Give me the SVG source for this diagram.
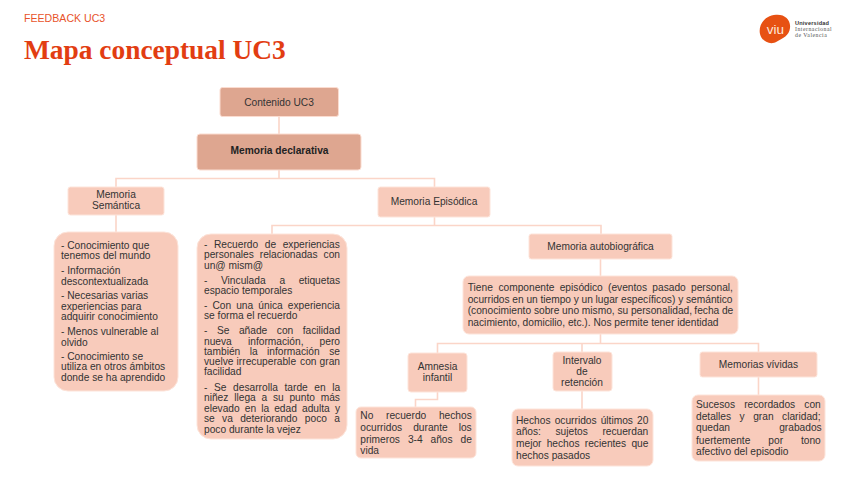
<svg xmlns="http://www.w3.org/2000/svg" width="848" height="477" viewBox="0 0 848 477">
<style>
text{font-family:"Liberation Sans",Arial,sans-serif;font-size:10.200px;fill:#333}
.c{text-anchor:middle}
.dark{fill:#dea690;stroke:#fbdcd0;stroke-width:1}
.light{fill:#f8cbbb;stroke:#fde4da;stroke-width:1}
#connectors path{fill:none;stroke:#fbd5c8;stroke-width:1.600}
</style>
<rect width="848" height="477" fill="#fff"/>
<g id="header">
<text x="24" y="22" style="font-size:10.600px;fill:#e8532b">FEEDBACK UC3</text>
<text x="24" y="59" style="font-family:'Liberation Serif','Times New Roman',serif;font-size:27.400px;font-weight:bold;fill:#e23d12">Mapa conceptual UC3</text>
</g>
<g id="logo">
<path d="M760 34C758 25 765 15 776 14.700C785 14 791 20 790 28C789 36 783 38 777 41.500C771 45.500 762 42 760 34Z" fill="#e75113"/>
<text x="775.500" y="33.500" class="c" style="font-size:13.500px;fill:#fde7dc">viu</text>
<text x="795" y="24.800" style="font-size:5.600px;letter-spacing:.2px;font-weight:bold;fill:#333">Universidad</text>
<text x="795" y="31" style="font-family:'Liberation Serif',serif;font-size:5.800px;letter-spacing:.5px;fill:#555">Internacional</text>
<text x="795" y="37.200" style="font-family:'Liberation Serif',serif;font-size:5.800px;letter-spacing:.5px;fill:#555">de Valencia</text>
</g>
<g id="connectors">
<path d="M279 117V134M279 170V178.500M116 187V178.500H434.500V187M116 215V232M434.500 217V225.500M272 234V225.500H601V234M600.500 259V276M600.500 334V343M437.500 353V343.500H758.500V352M582 343.500V352M437.500 392V399.500H415.500V407M582 391V409M758.500 377V395"/>
</g>
<g id="n-contenido"><rect class="dark" x="220" y="87.500" width="118.500" height="29" rx="2.500"/><text class="c" x="279" y="105.500">Contenido UC3</text></g>
<g id="n-declarativa"><rect class="dark" x="197" y="134" width="164" height="36" rx="3"/><text class="c" x="279.500" y="154" style="font-weight:bold;fill:#222">Memoria declarativa</text></g>
<g id="n-semantica"><rect class="light" x="68" y="187" width="96" height="28" rx="2.500"/><text class="c" x="116" y="198">Memoria</text><text class="c" x="116" y="209">Semántica</text></g>
<g id="n-episodica"><rect class="light" x="378" y="187" width="112" height="30" rx="2.500"/><text class="c" x="434" y="205">Memoria Episódica</text></g>
<g id="n-semantica-lista"><rect class="light" x="54" y="232" width="124" height="159" rx="14"/>
<text x="61" y="248.500">- Conocimiento que</text><text x="61" y="259">tenemos del mundo</text><text x="61" y="274">- Información</text><text x="61" y="284.500">descontextualizada</text><text x="61" y="299">- Necesarias varias</text><text x="61" y="309.500">experiencias para</text><text x="61" y="320">adquirir conocimiento</text><text x="61" y="335">- Menos vulnerable al</text><text x="61" y="345.500">olvido</text><text x="61" y="359.500">- Conocimiento se</text><text x="61" y="370">utiliza en otros ámbitos</text><text x="61" y="381">donde se ha aprendido</text>
</g>
<g id="n-episodica-lista"><rect class="light" x="197" y="234" width="150" height="205" rx="14"/>
<text y="248"><tspan x="204">-</tspan><tspan x="214">Recuerdo</tspan><tspan x="264.800">de</tspan><tspan x="282.700">experiencias</tspan></text>
<text y="258"><tspan x="204">personales</tspan><tspan x="259.800">relacionadas</tspan><tspan x="323.600">con</tspan></text>
<text x="204" y="268.500">un@ mism@</text>
<text y="283.500"><tspan x="204">-</tspan><tspan x="221">Vinculada</tspan><tspan x="279.400">a</tspan><tspan x="298.700">etiquetas</tspan></text>
<text x="204" y="294">espacio temporales</text>
<text y="308.500"><tspan x="204">-</tspan><tspan x="212.500">Con</tspan><tspan x="236.200">una</tspan><tspan x="258.300">única</tspan><tspan x="287.800">experiencia</tspan></text>
<text x="204" y="319">se forma el recuerdo</text>
<text y="334"><tspan x="204">-</tspan><tspan x="216.900">Se</tspan><tspan x="238.900">añade</tspan><tspan x="276.800">con</tspan><tspan x="302.700">facilidad</tspan></text>
<text y="344.500"><tspan x="204">nueva</tspan><tspan x="248">información,</tspan><tspan x="319.600">pero</tspan></text>
<text y="354.500"><tspan x="204">también</tspan><tspan x="249.700">la</tspan><tspan x="267">información</tspan><tspan x="329.200">se</tspan></text>
<text y="365"><tspan x="204">vuelve</tspan><tspan x="236.600">irrecuperable</tspan><tspan x="300.100">con</tspan><tspan x="319.600">gran</tspan></text>
<text x="204" y="375">facilidad</text>
<text y="390.500"><tspan x="204">-</tspan><tspan x="214">Se</tspan><tspan x="233.100">desarrolla</tspan><tspan x="284.500">tarde</tspan><tspan x="314.300">en</tspan><tspan x="332.200">la</tspan></text>
<text y="401"><tspan x="204">niñez</tspan><tspan x="234.200">llega</tspan><tspan x="261.400">a</tspan><tspan x="272.900">su</tspan><tspan x="289.400">punto</tspan><tspan x="320.700">más</tspan></text>
<text y="411.500"><tspan x="204">elevado</tspan><tspan x="244.800">en</tspan><tspan x="261.200">la</tspan><tspan x="274.200">edad</tspan><tspan x="302">adulta</tspan><tspan x="334.900">y</tspan></text>
<text y="422"><tspan x="204">se</tspan><tspan x="222.100">va</tspan><tspan x="240.200">deteriorando</tspan><tspan x="304.800">poco</tspan><tspan x="334.200">a</tspan></text>
<text x="204" y="432.500">poco durante la vejez</text>
</g>
<g id="n-autobiografica"><rect class="light" x="529" y="234" width="143" height="25" rx="2.500"/><text class="c" x="600.500" y="250">Memoria autobiográfica</text></g>
<g id="n-tiene"><rect class="light" x="463" y="276" width="275" height="58" rx="6"/>
<text y="291"><tspan x="467.700">Tiene</tspan><tspan x="498.400">componente</tspan><tspan x="559.700">episódico</tspan><tspan x="608">(eventos</tspan><tspan x="652.300">pasado</tspan><tspan x="691">personal,</tspan></text>
<text y="302.500"><tspan x="467.700">ocurridos</tspan><tspan x="512.300">en</tspan><tspan x="526.400">un</tspan><tspan x="540.400">tiempo</tspan><tspan x="573.700">y</tspan><tspan x="581.600">un</tspan><tspan x="595.600">lugar</tspan><tspan x="621">específicos)</tspan><tspan x="678.200">y</tspan><tspan x="686">semántico</tspan></text>
<text y="314"><tspan x="467.700">(conocimiento</tspan><tspan x="533.900">sobre</tspan><tspan x="562.100">uno</tspan><tspan x="581.800">mismo,</tspan><tspan x="617.400">su</tspan><tspan x="630.900">personalidad,</tspan><tspan x="694.300">fecha</tspan><tspan x="721.900">de</tspan></text>
<text x="467.700" y="326">nacimiento, domicilio, etc.). Nos permite tener identidad</text>
</g>
<g id="n-amnesia"><rect class="light" x="408" y="353" width="59" height="39" rx="3"/><text class="c" x="437.500" y="370">Amnesia</text><text class="c" x="437.500" y="381">infantil</text></g>
<g id="n-intervalo"><rect class="light" x="553" y="352" width="59" height="39" rx="3"/><text class="c" x="582" y="364">Intervalo</text><text class="c" x="582" y="375">de</text><text class="c" x="582" y="385.500">retención</text></g>
<g id="n-vividas"><rect class="light" x="700" y="352" width="117" height="25" rx="2.500"/><text class="c" x="758.500" y="368">Memorias vívidas</text></g>
<g id="n-amnesia-texto"><rect class="light" x="356" y="407" width="120" height="51" rx="5"/>
<text y="419"><tspan x="360.300">No</tspan><tspan x="386">recuerdo</tspan><tspan x="438.900">hechos</tspan></text>
<text y="431"><tspan x="360.300">ocurridos</tspan><tspan x="413.200">durante</tspan><tspan x="458.700">los</tspan></text>
<text y="442.500"><tspan x="360.300">primeros</tspan><tspan x="407.900">3-4</tspan><tspan x="430.500">años</tspan><tspan x="460.500">de</tspan></text>
<text x="360.300" y="454">vida</text>
</g>
<g id="n-intervalo-texto"><rect class="light" x="512" y="409" width="141" height="57" rx="6"/>
<text y="423.500"><tspan x="516">Hechos</tspan><tspan x="554.700">ocurridos</tspan><tspan x="600.700">últimos</tspan><tspan x="637">20</tspan></text>
<text y="435"><tspan x="516">años:</tspan><tspan x="555.500">sujetos</tspan><tspan x="602.400">recuerdan</tspan></text>
<text y="446.500"><tspan x="516">mejor</tspan><tspan x="546.700">hechos</tspan><tspan x="584.800">recientes</tspan><tspan x="631.400">que</tspan></text>
<text x="516" y="458.500">hechos pasados</text>
</g>
<g id="n-vividas-texto"><rect class="light" x="692" y="395" width="133" height="66" rx="6"/>
<text y="407.500"><tspan x="696">Sucesos</tspan><tspan x="744.200">recordados</tspan><tspan x="804.300">con</tspan></text>
<text y="419.500"><tspan x="696">detalles</tspan><tspan x="739.600">y</tspan><tspan x="753.200">gran</tspan><tspan x="782.100">claridad;</tspan></text>
<text y="431"><tspan x="696">quedan</tspan><tspan x="779.200">grabados</tspan></text>
<text y="443.500"><tspan x="696">fuertemente</tspan><tspan x="768.300">por</tspan><tspan x="800.900">tono</tspan></text>
<text x="696" y="455">afectivo del episodio</text>
</g>
</svg>
